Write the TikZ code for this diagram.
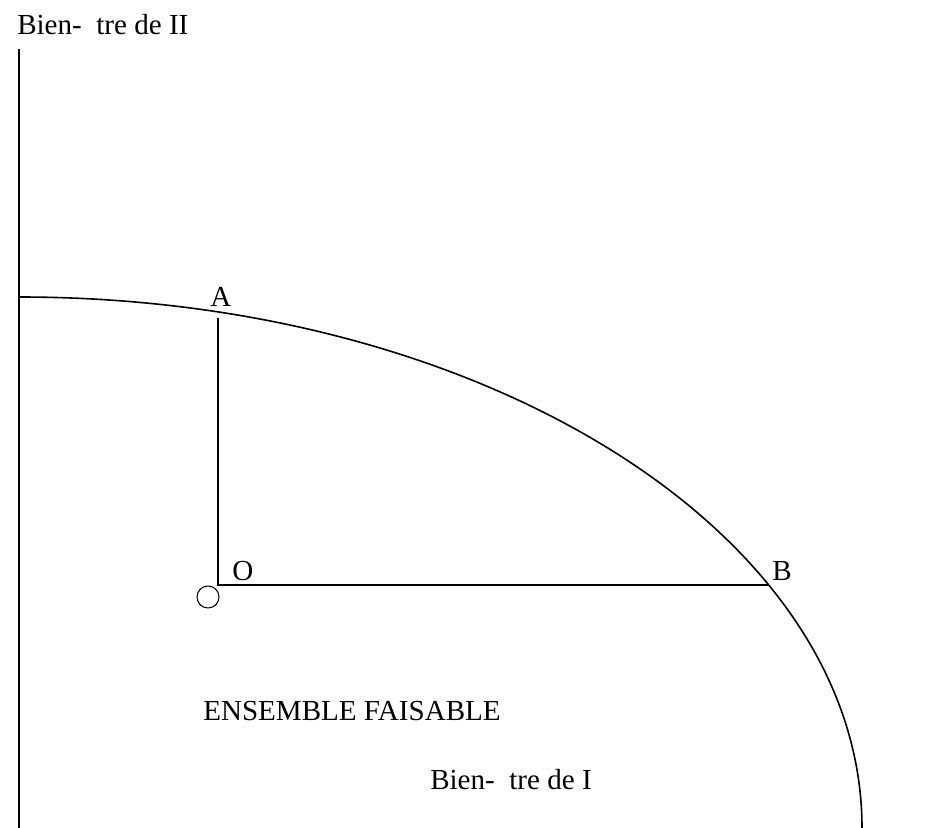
\documentclass[tikz,border=0pt]{standalone}
\usepackage{fontspec}
\setmainfont{Liberation Serif}
\usetikzlibrary{positioning}
\tikzset{
  axis/.style={
    line width=1.2pt
  },
  frontier/.style={
    line width=1.2pt
  },
  guide/.style={
    line width=1.1pt
  },
  zero/.style={
    shape = circle,
    draw,
    inner sep = 0pt,
    minimum size = 16.5pt,
    line width=0.8pt
  },
  lbl/.style={
    anchor = base west,
    inner sep = 0pt,
    font = \fontsize{21.8}{26}\selectfont
  }
}
\begin{document}
\begin{tikzpicture}[x=0.75pt,y=-0.75pt]
  \useasboundingbox (0,0) rectangle (936,828);

  % axes
  \coordinate (orig) at (19,828);
  \coordinate (ytop) at (19,49);
  \draw[axis] (ytop) -- (orig);

  % frontier of the feasible set
  \coordinate (front) at (19,297);
  \draw[frontier] (front) arc[start angle=90, end angle=0, x radius=632.25pt, y radius=398.25pt];

  % point O and the two guides
  \coordinate (O) at (218,585);
  \coordinate (Afoot) at (218,318);
  \coordinate (Bcut) at (769,585);
  \draw[guide] (Afoot) -- (O) -- (Bcut);
  \node[zero] (nul) at (208,597) {};

  \node[lbl] (labA) at (210,306) {A};
  \node[lbl] (labO) at (232,580) {O};
  \node[lbl] (labB) at (772,580) {B};

  \node[lbl] (ens) at (203,720) {ENSEMBLE FAISABLE};
  \node[lbl] (yname) at (17,35) {Bien-\ \ tre de II};
  \node[lbl] (xname) at (430,789) {Bien-\ \ tre de I};
\end{tikzpicture}
\end{document}
